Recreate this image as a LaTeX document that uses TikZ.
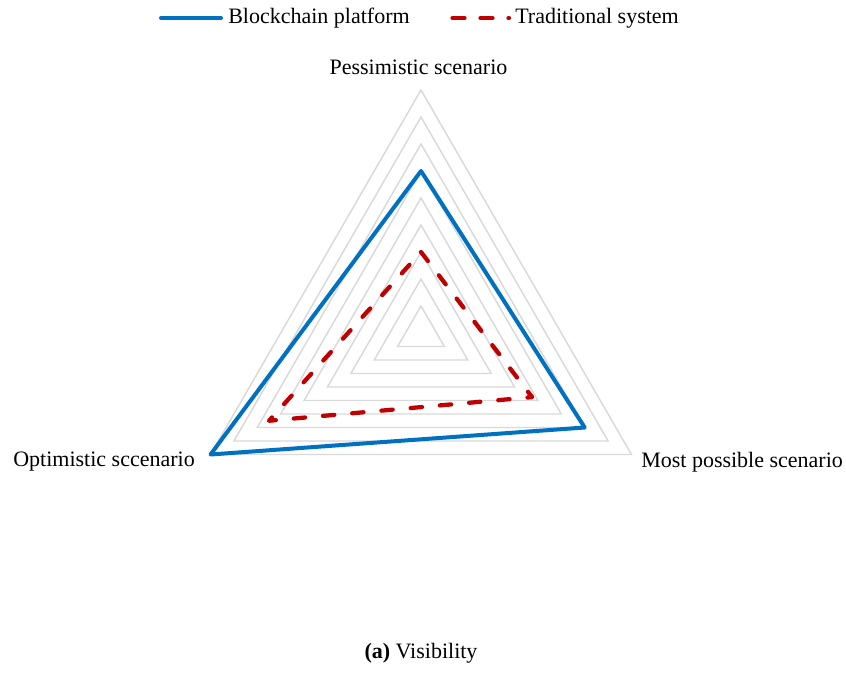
\documentclass[tikz,border=0pt]{standalone}
\usepackage{fontspec}
\setmainfont{Liberation Serif}
\definecolor{bcblue}{HTML}{0070C0}
\definecolor{tsred}{HTML}{C00000}
\definecolor{gridgray}{HTML}{D9D9D9}
\begin{document}
\begin{tikzpicture}[x=0.75pt,y=0.75pt,
  gridline/.style={draw=gridgray,line width=1.1pt,line join=miter},
  blueline/.style={draw=bcblue,line width=3pt,line join=round},
  redline/.style={draw=tsred,line width=3.2pt,line cap=round,line join=round,
    dash pattern=on 8.5pt off 13.5pt},
  lbl/.style={font=\fontsize{16.5}{19}\selectfont,inner sep=0pt}]
\useasboundingbox (0,0) rectangle (846,672);

% radar chart, three axes, nine rings of 27 units each
\begin{scope}[shift={(421,339)}]
  \foreach \k in {1,...,9}
    \draw[gridline] (90:27*\k) -- (210:27*\k) -- (330:27*\k) -- cycle;

  % Blockchain platform
  \coordinate (bP) at (90:27*6);
  \coordinate (bO) at (210:27*9);
  \coordinate (bM) at (330:27*7);
  \draw[blueline] (bP) -- (bM) -- (bO) -- cycle;

  % Traditional system
  \coordinate (tP) at (90:27*3);
  \coordinate (tO) at (210:27*6.5);
  \coordinate (tM) at (330:27*4.75);
  \draw[redline] (tP) -- (tM) -- (tO) -- cycle;
\end{scope}

% axis labels
\node[lbl] (lp) at (418.5,605) {Pessimistic scenario};
\node[lbl,anchor=east] (lo) at (195,210) {Optimistic sccenario};
\node[lbl,anchor=west] (lm) at (641,210) {Most possible scenario};

% legend
\coordinate (lb1) at (161,654);
\coordinate (lb2) at (221,654);
\draw[draw=bcblue,line width=3pt,line cap=round] (lb1) -- (lb2);
\node[lbl,anchor=west] (tb) at (228,654) {Blockchain platform};
\coordinate (lr1) at (452.5,654);
\coordinate (lr2) at (509,654);
\draw[redline,dash pattern=on 9pt off 12pt] (lr1) -- (lr2);
\node[lbl,anchor=west] (tr) at (515,654) {Traditional system};

% caption
\node[lbl] (cap) at (421,19) {\textbf{(a)} Visibility};
\end{tikzpicture}
\end{document}
